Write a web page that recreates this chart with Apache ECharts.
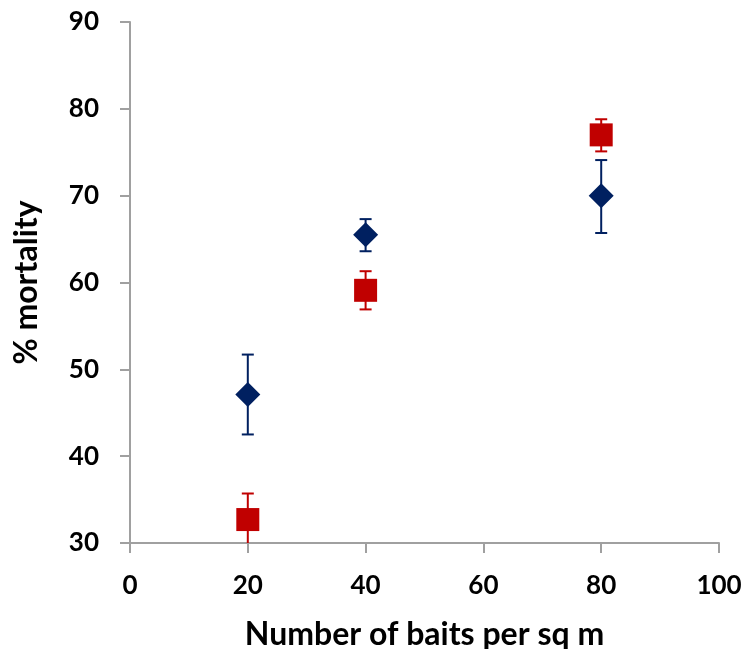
<!DOCTYPE html>
<html>
<head>
<meta charset="utf-8">
<script src="https://cdn.jsdelivr.net/npm/echarts@6/dist/echarts.min.js"></script>
<style>
html,body{margin:0;padding:0;background:#fff;}
#chart{width:747px;height:649px;}
</style>
</head>
<body>
<div id="chart"></div>
<script>
// Data
const xValues = [20, 40, 80];
const blueMean = [47.1, 65.5, 70.0];
const blueUpper = [51.7, 67.3, 74.1];
const blueLower = [42.5, 63.6, 65.7];
const redMean = [32.7, 59.1, 77.0];
const redUpper = [35.7, 61.3, 78.8];
const redLower = [29.7, 56.9, 75.1];
const xTicks = [0, 20, 40, 60, 80, 100];
const yTicks = [30, 40, 50, 60, 70, 80, 90];

const BLUE = '#002060';
const RED = '#C00000';
const FONT = 'Lato';

function pts(m) { return xValues.map((x, i) => [x, m[i]]); }
function errData(lo, hi) { return xValues.map((x, i) => [x, lo[i], hi[i]]); }

function errSeries(data, color) {
  return {
    type: 'custom',
    clip: true,
    z: 1,
    renderItem: function (params, api) {
      const x = api.value(0);
      const lo = api.coord([x, api.value(1)]);
      const hi = api.coord([x, api.value(2)]);
      const w = 6;
      const style = { stroke: color, lineWidth: 2, fill: null };
      return {
        type: 'group',
        children: [
          { type: 'line', shape: { x1: lo[0], y1: lo[1], x2: hi[0], y2: hi[1] }, style: style },
          { type: 'line', shape: { x1: hi[0] - w, y1: hi[1], x2: hi[0] + w, y2: hi[1] }, style: style },
          { type: 'line', shape: { x1: lo[0] - w, y1: lo[1], x2: lo[0] + w, y2: lo[1] }, style: style }
        ]
      };
    },
    data: data
  };
}

const chart = echarts.init(document.getElementById('chart'));
chart.setOption({
  animation: false,
  backgroundColor: '#fff',
  grid: { left: 130, right: 28, top: 22, bottom: 106, containLabel: false, outerBoundsMode: 'none' },
  xAxis: {
    type: 'value',
    min: xTicks[0], max: xTicks[xTicks.length - 1], interval: 20,
    name: 'Number of baits per sq m',
    nameLocation: 'middle',
    nameGap: 76,
    nameTextStyle: { fontFamily: FONT, fontWeight: 'bold', fontSize: 32, color: '#000' },
    axisLine: { show: true, lineStyle: { color: '#A0A0A0', width: 2 } },
    axisTick: { show: true, inside: false, length: 10, lineStyle: { color: '#A0A0A0', width: 2 } },
    axisLabel: { margin: 30, fontFamily: FONT, fontWeight: 'bold', fontSize: 26, color: '#000' },
    splitLine: { show: false }
  },
  yAxis: {
    type: 'value',
    min: yTicks[0], max: yTicks[yTicks.length - 1], interval: 10,
    name: '% mortality',
    nameLocation: 'middle',
    nameGap: 87,
    nameRotate: 90,
    nameTextStyle: { fontFamily: FONT, fontWeight: 'bold', fontSize: 32, color: '#000' },
    axisLine: { show: true, lineStyle: { color: '#A0A0A0', width: 2 } },
    axisTick: { show: true, inside: false, length: 10, lineStyle: { color: '#A0A0A0', width: 2 } },
    axisLabel: { margin: 31, fontFamily: FONT, fontWeight: 'bold', fontSize: 26, color: '#000' },
    splitLine: { show: false }
  },
  series: [
    errSeries(errData(blueLower, blueUpper), BLUE),
    errSeries(errData(redLower, redUpper), RED),
    {
      type: 'scatter', z: 3,
      symbol: 'diamond', symbolSize: [25, 25],
      itemStyle: { color: BLUE, opacity: 1 },
      data: pts(blueMean)
    },
    {
      type: 'scatter', z: 3,
      symbol: 'rect', symbolSize: [23, 23],
      itemStyle: { color: RED, opacity: 1 },
      data: pts(redMean)
    }
  ]
});
</script>
</body>
</html>
